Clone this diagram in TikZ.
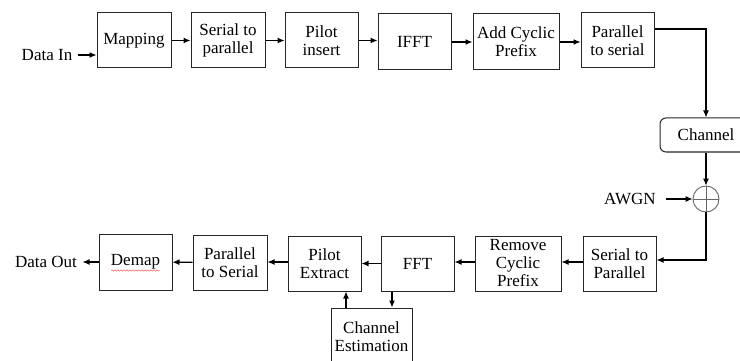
\documentclass[tikz,border=0pt]{standalone}
\usepackage{fontspec}
\setmainfont{Liberation Serif}
\usetikzlibrary{arrows.meta, decorations.pathmorphing}

\tikzset{
  blk/.style={draw=black!85, line width=1pt, minimum width=73pt, minimum height=55pt, inner sep=0pt, align=center},
  wideblk/.style={blk, minimum width=86pt, minimum height=56pt},
  lbl/.style={inner sep=0pt},
  arr/.style={-{Latex[length=7pt,width=6pt]}, line width=1.1pt},
  wire/.style={line width=1.1pt}
}

\begin{document}
\begin{tikzpicture}[x=1pt, y=-1pt, font=\fontsize{17}{18}\selectfont]
    \useasboundingbox (0,0) rectangle (740,361);
    \clip (0,0) rectangle (740,361);
    %% transmitter
    \node[lbl] (din) at (47,55) {Data In};
    \node[blk, minimum width=74pt] (map) at (134,40.5) {Mapping};
    \node[blk, minimum width=74pt] (stp) at (228,40.5) {Serial to\\parallel};
    \node[blk] (pins) at (321.5,40.5) {Pilot\\insert};
    \node[blk, minimum height=56pt] (ifft) at (414.5,42) {IFFT};
    \node[wideblk] (acp) at (516,42) {Add Cyclic\\Prefix};
    \node[blk] (pts) at (617.5,40.5) {Parallel\\to serial};
    % channel and noise
    \node[draw=black!85, line width=1pt, rounded corners=6pt, minimum width=92pt, minimum height=34pt] (chan) at (706,135) {Channel};
    \node[draw=black!60, line width=0.9pt, circle, minimum size=26pt, inner sep=0pt] (sum) at (706,199) {};
    \draw[black!60, line width=0.9pt] (sum.north) -- (sum.south) (sum.west) -- (sum.east);
    \node[lbl] (awgn) at (630,199) {AWGN};
    %% receiver
    \node[blk] (stpr) at (619.5,263.5) {Serial to\\Parallel};
    \node[wideblk, minimum height=55pt] (rcp) at (518,263.5) {Remove\\Cyclic\\Prefix};
    \node[blk] (fft) at (417.5,263.5) {FFT};
    \node[blk] (pext) at (324.5,263.5) {Pilot\\Extract};
    \node[blk, minimum width=74pt] (ptsr) at (230,262.5) {Parallel\\to Serial};
    \node[blk, minimum height=56pt] (demap) at (135.5,262) {Demap};
    \node[lbl] (dout) at (46,262) {Data Out};
    \node[blk, minimum width=81pt, minimum height=57pt] (chest) at (371.5,336.5) {Channel\\Estimation};
    % spell-check underline
    \draw[red!80, line width=0.4pt, decorate, decoration={snake, amplitude=0.7pt, segment length=3pt}] (111,270.5) -- (160,270.5);

    %% connectors
    \draw[arr] (din.east) ++(6,0) -- (din.east -| map.west);
    \draw[arr] (map) -- (stp);
    \draw[arr] (stp) -- (pins);
    \draw[arr] (pins.east) -- (pins.east -| ifft.west);
    \draw[arr] (ifft) -- (acp);
    \draw[arr] (acp.east) -- (acp.east -| pts.west);
    \draw[arr] ([yshift=11.5pt]pts.east) -| (chan.north);
    \draw[arr] (chan.south) -- (sum.north);
    \draw[arr] (awgn.east) ++(10,0) -- (sum.west);
    \draw[arr] (sum.south) |- ([yshift=3.5pt]stpr.east);
    \draw[arr] ([yshift=1.5pt]stpr.west) -- ([yshift=1.5pt]stpr.west -| rcp.east);
    \draw[arr] ([yshift=1.5pt]rcp.west) -- ([yshift=1.5pt]rcp.west -| fft.east);
    \draw[arr] (fft) -- (pext);
    \draw[arr] ([yshift=1.5pt]pext.west) -- ([yshift=1.5pt]pext.west -| ptsr.east);
    \draw[arr] (ptsr) -- (demap);
    \draw[arr] (demap.west) -- ++(-16,0);
    \draw[arr] ([xshift=-25.5pt]fft.south) -- ([xshift=-25.5pt]fft.south |- chest.north);
    \draw[arr] ([xshift=21.5pt]pext.south |- chest.north) -- ([xshift=21.5pt]pext.south);
\end{tikzpicture}
\end{document}
